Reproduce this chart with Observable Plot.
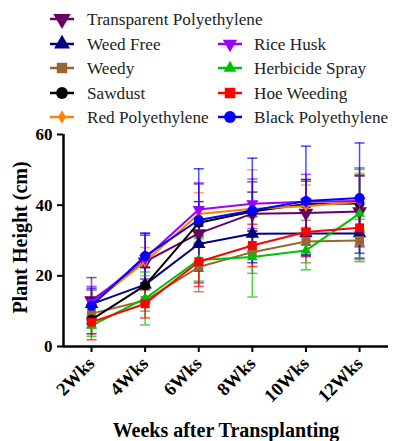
<!DOCTYPE html>
<html><head><meta charset="utf-8">
<script src="https://cdn.jsdelivr.net/npm/d3@7"></script>
<script src="https://cdn.jsdelivr.net/npm/@observablehq/plot@0.6"></script>
</head><body style="margin:0;background:#fff;">
<div id="wrap" style="position:relative;width:397px;height:441px;overflow:hidden;">
<div id="chart" style="position:absolute;left:0;top:125px;"></div>
<svg id="legend" width="397" height="130" style="position:absolute;left:0;top:0;z-index:1;overflow:visible;"></svg>
</div>
<script>
const weeks = [2, 4, 6, 8, 10, 12];
const weekLabels = ["2Wks", "4Wks", "6Wks", "8Wks", "10Wks", "12Wks"];
const seriesNames = ["Transparent Polyethylene", "Weed Free", "Weedy", "Sawdust", "Red Polyethylene",
  "Rice Husk", "Herbicide Spray", "Hoe Weeding", "Black Polyethylene"];
const seriesColors = ["#660066", "#000080", "#996633", "#000000", "#FF8000",
  "#9900FF", "#00C000", "#FF0000", "#0000FF"];

const transparentMean = [13, 24, 32, 37.6, 37.8, 38.2];
const weedFreeMean = [12, 17.5, 29, 31.9, 32, 32];
const weedyMean = [9.3, 13, 22.5, 26.7, 29.7, 30];
const sawdustMean = [7.6, 17.3, 35, 38.2, 40.3, 40.5];
const redPolyMean = [12, 24, 37.5, 39, 39.7, 41];
const riceHuskMean = [12.5, 25, 38.8, 40.4, 41, 41.2];
const herbicideMean = [5.9, 13.6, 24.5, 25.3, 27.2, 37.6];
const hoeMean = [6.9, 12.1, 24, 28.6, 32.4, 33.6];
const blackPolyMean = [11.5, 25.6, 35.8, 38.5, 41.2, 42];

const transparentSd = [6.5, 7.5, 14, 9, 9, 10];
const weedFreeSd = [4, 5, 5, 5, 6, 7];
const weedySd = [4, 3, 7, 6, 6, 6];
const sawdustSd = [4, 5, 6, 5.5, 7, 8];
const redPolySd = [4, 4, 6, 11, 6, 8];
const riceHuskSd = [4.5, 7, 7.5, 7, 7.7, 9];
const herbicideSd = [3, 7.5, 6, 11.3, 5.5, 13];
const hoeSd = [5, 4, 7, 6, 7, 5];
const blackPolySd = [5, 6.5, 14.5, 14.8, 15.5, 15.6];

const allMeans = [transparentMean, weedFreeMean, weedyMean, sawdustMean, redPolyMean,
  riceHuskMean, herbicideMean, hoeMean, blackPolyMean];
const allSds = [transparentSd, weedFreeSd, weedySd, sawdustSd, redPolySd,
  riceHuskSd, herbicideSd, hoeSd, blackPolySd];

const serif = '"Liberation Serif", "Times New Roman", serif';
const sqrt3 = Math.sqrt(3);
const triangleDown = {draw(ctx, size) {
  const y = -Math.sqrt(size / (sqrt3 * 3));
  ctx.moveTo(0, -y * 2);
  ctx.lineTo(-sqrt3 * y, y);
  ctx.lineTo(sqrt3 * y, y);
  ctx.closePath();
}};
const seriesSymbols = [triangleDown, d3.symbolTriangle, d3.symbolSquare, d3.symbolCircle, d3.symbolDiamond,
  triangleDown, d3.symbolTriangle, d3.symbolSquare, d3.symbolCircle];
const seriesR = [5.5, 5, 5, 5, 3.5, 4.5, 4, 5, 5];

const rows = [];
seriesNames.forEach((name, i) => {
  weeks.forEach((w, j) => {
    rows.push({series: name, i, week: w, mean: allMeans[i][j], sd: allSds[i][j],
      lo: allMeans[i][j] - allSds[i][j], hi: allMeans[i][j] + allSds[i][j]});
  });
});

const capHalf = 0.19;
const marks = [];
seriesNames.forEach((name, i) => {
  const d = rows.filter(r => r.i === i);
  const eb = {stroke: seriesColors[i], strokeWidth: 1.5, strokeOpacity: 0.7};
  marks.push(Plot.ruleX(d, {x: "week", y1: "lo", y2: "hi", ...eb}));
  marks.push(Plot.link(d, {x1: r => r.week - capHalf, x2: r => r.week + capHalf, y1: "hi", y2: "hi", ...eb}));
  marks.push(Plot.link(d, {x1: r => r.week - capHalf, x2: r => r.week + capHalf, y1: "lo", y2: "lo", ...eb}));
});
seriesNames.forEach((name, i) => {
  const d = rows.filter(r => r.i === i);
  marks.push(Plot.line(d, {x: "week", y: "mean", stroke: seriesColors[i], strokeWidth: 2}));
  marks.push(Plot.dot(d, {x: "week", y: "mean", fill: seriesColors[i], stroke: "none", r: seriesR[i], symbol: () => seriesSymbols[i]}));
});

const chart = Plot.plot({
  width: 397, height: 316,
  marginTop: 9, marginLeft: 63, marginRight: 9, marginBottom: 95,
  style: {fontFamily: serif, background: "#fff", color: "#000"},
  x: {type: "linear", domain: [0.955, 13.08]},
  y: {domain: [0, 60]},
  symbol: {type: "identity"},
  marks: [
    ...marks,
    Plot.ruleY([0], {stroke: "#000", strokeWidth: 2.5}),
    Plot.ruleX([0.955], {stroke: "#000", strokeWidth: 2.5}),
    Plot.axisX({ticks: weeks, tickFormat: d => weekLabels[weeks.indexOf(d)], tickRotate: -45, tickSize: 6, tickPadding: 8,
      fontSize: 18.5, fontWeight: "bold", label: null, strokeWidth: 2, stroke: "#000", fill: "#000"}),
    Plot.axisY({ticks: [0, 20, 40, 60], tickSize: 6, tickPadding: 5, fontSize: 17, fontWeight: "bold", label: null,
      strokeWidth: 2, stroke: "#000", fill: "#000"}),
    Plot.text(["Plant Height (cm)"], {frameAnchor: "left", textAnchor: "middle", dx: -43, dy: -3, rotate: -90, fontSize: 20, fontWeight: "bold", fill: "#000"}),
    Plot.text(["Weeks after Transplanting"], {frameAnchor: "bottom", dy: 90, fontSize: 20, fontWeight: "bold", fill: "#000"})
  ]
});
document.getElementById("chart").appendChild(chart);

// legend (drawn as SVG above the chart)
const legendPos = [[50, 19], [50, 44], [50, 68], [50, 93], [50, 117], [218, 44], [218, 68], [218, 93], [218, 117]];
const legend = d3.select("#legend");
seriesNames.forEach((name, i) => {
  const [x0, y0] = legendPos[i];
  const g = legend.append("g").attr("transform", `translate(${x0},${y0})`);
  g.append("line").attr("x1", 0).attr("x2", 24).attr("y1", 0).attr("y2", 0)
    .attr("stroke", seriesColors[i]).attr("stroke-width", 2.5);
  const r = seriesR[i];
  g.append("path").attr("transform", "translate(12,0)")
    .attr("d", d3.symbol(seriesSymbols[i], Math.PI * r * r * 1.4)())
    .attr("fill", seriesColors[i]);
  g.append("text").attr("x", i < 5 ? 37 : 36).attr("y", 0).attr("dy", "0.33em")
    .attr("font-family", serif).attr("font-size", 17.2).attr("fill", "#222")
    .text(name);
});
</script>
</body></html>
